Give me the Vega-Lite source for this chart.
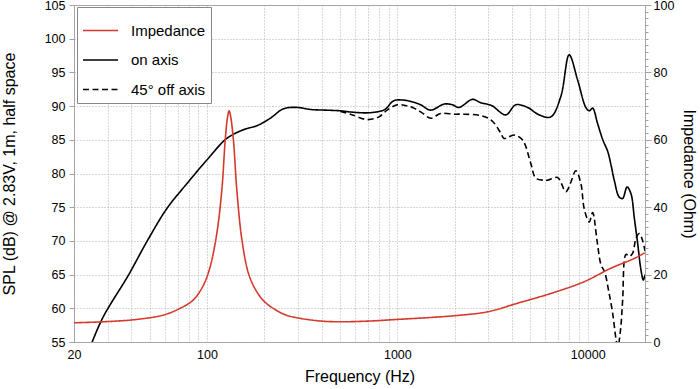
{
  "$schema": "https://vega.github.io/schema/vega-lite/v6.json",
  "width": 571,
  "height": 337,
  "autosize": {"type": "none"},
  "padding": {"left": 74, "top": 5, "right": 55, "bottom": 47},
  "config": {
    "font": "Liberation Sans",
    "view": {"stroke": "#a0a0a0", "strokeWidth": 1},
    "axis": {
      "labelFont": "Liberation Sans",
      "titleFont": "Liberation Sans",
      "labelFontSize": 12.5,
      "titleFontSize": 16,
      "titleFontWeight": "normal",
      "labelColor": "#000000",
      "titleColor": "#000000",
      "tickColor": "#a0a0a0",
      "domain": false,
      "gridColor": "#b0b0b0",
      "gridDash": [1, 2],
      "gridWidth": 1
    },
    "legend": {
      "orient": "none",
      "legendX": 3,
      "legendY": 2,
      "padding": 5,
      "strokeColor": "#888888",
      "fillColor": "#ffffff",
      "symbolType": "stroke",
      "symbolSize": 1225,
      "symbolStrokeWidth": 1.5,
      "labelFontSize": 15,
      "labelFont": "Liberation Sans",
      "labelOffset": 12,
      "rowPadding": 2.5,
      "labelLimit": 300
    }
  },
  "datasets": {
    "spl": [
      {"f": 24.9, "db": 55.0, "series": "on axis"},
      {"f": 28.5, "db": 58.75, "series": "on axis"},
      {"f": 38.6, "db": 64.9, "series": "on axis"},
      {"f": 48.3, "db": 69.9, "series": "on axis"},
      {"f": 61.5, "db": 74.8, "series": "on axis"},
      {"f": 78.4, "db": 78.5, "series": "on axis"},
      {"f": 99.8, "db": 82.0, "series": "on axis"},
      {"f": 127, "db": 85.2, "series": "on axis"},
      {"f": 155.6, "db": 86.5, "series": "on axis"},
      {"f": 183, "db": 87.1, "series": "on axis"},
      {"f": 215, "db": 88.2, "series": "on axis"},
      {"f": 252, "db": 89.6, "series": "on axis"},
      {"f": 298, "db": 89.8, "series": "on axis"},
      {"f": 350, "db": 89.5, "series": "on axis"},
      {"f": 420, "db": 89.4, "series": "on axis"},
      {"f": 502, "db": 89.3, "series": "on axis"},
      {"f": 580, "db": 89.1, "series": "on axis"},
      {"f": 694, "db": 89.0, "series": "on axis"},
      {"f": 800, "db": 89.2, "series": "on axis"},
      {"f": 860, "db": 89.5, "series": "on axis"},
      {"f": 958, "db": 90.8, "series": "on axis"},
      {"f": 1061, "db": 90.9, "series": "on axis"},
      {"f": 1174, "db": 90.7, "series": "on axis"},
      {"f": 1324, "db": 90.2, "series": "on axis"},
      {"f": 1496, "db": 89.4, "series": "on axis"},
      {"f": 1758, "db": 90.3, "series": "on axis"},
      {"f": 1944, "db": 90.2, "series": "on axis"},
      {"f": 2106, "db": 89.8, "series": "on axis"},
      {"f": 2480, "db": 91.0, "series": "on axis"},
      {"f": 2740, "db": 90.5, "series": "on axis"},
      {"f": 3120, "db": 90.1, "series": "on axis"},
      {"f": 3711, "db": 88.7, "series": "on axis"},
      {"f": 4190, "db": 90.2, "series": "on axis"},
      {"f": 4830, "db": 89.8, "series": "on axis"},
      {"f": 5556, "db": 88.7, "series": "on axis"},
      {"f": 6400, "db": 88.4, "series": "on axis"},
      {"f": 7220, "db": 91.4, "series": "on axis"},
      {"f": 7992, "db": 97.6, "series": "on axis"},
      {"f": 8846, "db": 93.9, "series": "on axis"},
      {"f": 9776, "db": 89.8, "series": "on axis"},
      {"f": 10200, "db": 89.3, "series": "on axis"},
      {"f": 10610, "db": 89.7, "series": "on axis"},
      {"f": 11274, "db": 87.4, "series": "on axis"},
      {"f": 12000, "db": 85.0, "series": "on axis"},
      {"f": 12730, "db": 83.3, "series": "on axis"},
      {"f": 13250, "db": 81.3, "series": "on axis"},
      {"f": 13786, "db": 79.0, "series": "on axis"},
      {"f": 14640, "db": 76.5, "series": "on axis"},
      {"f": 15260, "db": 76.3, "series": "on axis"},
      {"f": 16100, "db": 78.0, "series": "on axis"},
      {"f": 16880, "db": 77.0, "series": "on axis"},
      {"f": 17574, "db": 73.4, "series": "on axis"},
      {"f": 18306, "db": 69.6, "series": "on axis"},
      {"f": 19044, "db": 65.7, "series": "on axis"},
      {"f": 19600, "db": 64.2, "series": "on axis"},
      {"f": 20000, "db": 65.0, "series": "on axis"},
      {"f": 502, "db": 89.2, "series": "45° off axis"},
      {"f": 567, "db": 88.8, "series": "45° off axis"},
      {"f": 694, "db": 88.0, "series": "45° off axis"},
      {"f": 799, "db": 88.4, "series": "45° off axis"},
      {"f": 884, "db": 89.4, "series": "45° off axis"},
      {"f": 998, "db": 90.2, "series": "45° off axis"},
      {"f": 1100, "db": 90.1, "series": "45° off axis"},
      {"f": 1222, "db": 89.7, "series": "45° off axis"},
      {"f": 1350, "db": 89.0, "series": "45° off axis"},
      {"f": 1496, "db": 88.2, "series": "45° off axis"},
      {"f": 1688, "db": 88.9, "series": "45° off axis"},
      {"f": 2000, "db": 88.8, "series": "45° off axis"},
      {"f": 2238, "db": 88.8, "series": "45° off axis"},
      {"f": 2740, "db": 88.6, "series": "45° off axis"},
      {"f": 3120, "db": 87.9, "series": "45° off axis"},
      {"f": 3494, "db": 86.0, "series": "45° off axis"},
      {"f": 3636, "db": 85.2, "series": "45° off axis"},
      {"f": 4104, "db": 85.7, "series": "45° off axis"},
      {"f": 4540, "db": 85.0, "series": "45° off axis"},
      {"f": 5024, "db": 81.5, "series": "45° off axis"},
      {"f": 5339, "db": 79.3, "series": "45° off axis"},
      {"f": 5900, "db": 79.0, "series": "45° off axis"},
      {"f": 6150, "db": 79.0, "series": "45° off axis"},
      {"f": 6940, "db": 79.4, "series": "45° off axis"},
      {"f": 7676, "db": 77.3, "series": "45° off axis"},
      {"f": 8100, "db": 78.5, "series": "45° off axis"},
      {"f": 8670, "db": 80.4, "series": "45° off axis"},
      {"f": 9210, "db": 78.5, "series": "45° off axis"},
      {"f": 9580, "db": 74.8, "series": "45° off axis"},
      {"f": 10180, "db": 72.8, "series": "45° off axis"},
      {"f": 10610, "db": 74.2, "series": "45° off axis"},
      {"f": 11200, "db": 70.0, "series": "45° off axis"},
      {"f": 11735, "db": 66.5, "series": "45° off axis"},
      {"f": 12300, "db": 65.3, "series": "45° off axis"},
      {"f": 12900, "db": 62.5, "series": "45° off axis"},
      {"f": 13520, "db": 59.3, "series": "45° off axis"},
      {"f": 14077, "db": 55.5, "series": "45° off axis"},
      {"f": 14400, "db": 54.3, "series": "45° off axis"},
      {"f": 14900, "db": 57.0, "series": "45° off axis"},
      {"f": 15260, "db": 61.2, "series": "45° off axis"},
      {"f": 15890, "db": 68.0, "series": "45° off axis"},
      {"f": 16540, "db": 67.7, "series": "45° off axis"},
      {"f": 17230, "db": 68.2, "series": "45° off axis"},
      {"f": 17938, "db": 70.4, "series": "45° off axis"},
      {"f": 18660, "db": 71.1, "series": "45° off axis"},
      {"f": 19410, "db": 70.1, "series": "45° off axis"},
      {"f": 20000, "db": 68.5, "series": "45° off axis"}
    ],
    "imp": [
      {"f": 20, "z": 5.7, "series": "Impedance"},
      {"f": 28.5, "z": 6.0, "series": "Impedance"},
      {"f": 42.7, "z": 6.7, "series": "Impedance"},
      {"f": 59, "z": 8.0, "series": "Impedance"},
      {"f": 72.2, "z": 10.0, "series": "Impedance"},
      {"f": 84.8, "z": 12.5, "series": "Impedance"},
      {"f": 95.8, "z": 16.9, "series": "Impedance"},
      {"f": 103.8, "z": 22.3, "series": "Impedance"},
      {"f": 112.6, "z": 32.3, "series": "Impedance"},
      {"f": 119.6, "z": 45.1, "series": "Impedance"},
      {"f": 124.6, "z": 59.9, "series": "Impedance"},
      {"f": 128, "z": 66.5, "series": "Impedance"},
      {"f": 130.6, "z": 68.6, "series": "Impedance"},
      {"f": 133, "z": 67.0, "series": "Impedance"},
      {"f": 137.6, "z": 59.9, "series": "Impedance"},
      {"f": 143.4, "z": 45.1, "series": "Impedance"},
      {"f": 152.5, "z": 30.3, "series": "Impedance"},
      {"f": 165, "z": 20.4, "series": "Impedance"},
      {"f": 180, "z": 15.5, "series": "Impedance"},
      {"f": 200, "z": 12.0, "series": "Impedance"},
      {"f": 230, "z": 9.5, "series": "Impedance"},
      {"f": 260, "z": 8.0, "series": "Impedance"},
      {"f": 310, "z": 7.0, "series": "Impedance"},
      {"f": 400, "z": 6.2, "series": "Impedance"},
      {"f": 500, "z": 6.0, "series": "Impedance"},
      {"f": 700, "z": 6.2, "series": "Impedance"},
      {"f": 1000, "z": 6.7, "series": "Impedance"},
      {"f": 2000, "z": 7.8, "series": "Impedance"},
      {"f": 3000, "z": 9.0, "series": "Impedance"},
      {"f": 4276, "z": 11.5, "series": "Impedance"},
      {"f": 6400, "z": 14.4, "series": "Impedance"},
      {"f": 9580, "z": 17.9, "series": "Impedance"},
      {"f": 13250, "z": 21.9, "series": "Impedance"},
      {"f": 17574, "z": 24.8, "series": "Impedance"},
      {"f": 20000, "z": 26.5, "series": "Impedance"}
    ]
  },
  "layer": [
    {
      "layer": [
        {
          "data": {"name": "spl"},
          "mark": {"type": "line", "interpolate": "catmull-rom", "strokeWidth": 1.6, "clip": true},
          "encoding": {
            "x": {
              "field": "f", "type": "quantitative",
              "scale": {"type": "log", "domain": [20, 20000], "nice": false},
              "axis": {
                "title": "Frequency (Hz)",
                "values": [20, 30, 40, 50, 60, 70, 80, 90, 100, 200, 300, 400, 500, 600, 700, 800, 900, 1000, 2000, 3000, 4000, 5000, 6000, 7000, 8000, 9000, 10000, 20000],
                "format": "d",
                "labelExpr": "indexof([20, 100, 1000, 10000], datum.value) >= 0 ? datum.label : ''",
                "labelFlush": false,
                "labelOverlap": false,
                "tickSize": 0,
                "labelPadding": 6,
                "titlePadding": 8,
                "grid": true
              }
            },
            "y": {
              "field": "db", "type": "quantitative",
              "scale": {"domain": [55, 105], "nice": false, "zero": false},
              "axis": {
                "title": "SPL (dB) @ 2.83V, 1m, half space",
                "values": [55, 60, 65, 70, 75, 80, 85, 90, 95, 100, 105],
                "tickSize": 5,
                "labelPadding": 4,
                "titlePadding": 27,
                "grid": true
              }
            },
            "color": {
              "field": "series", "type": "nominal",
              "scale": {"domain": ["Impedance", "on axis", "45° off axis"], "range": ["#d33a2c", "#000000", "#000000"]},
              "legend": {"title": null, "labelExpr": "datum.label + '\u2003\u2003\u2003'"}
            },
            "strokeDash": {
              "field": "series", "type": "nominal",
              "scale": {"domain": ["Impedance", "on axis", "45° off axis"], "range": [[1, 0], [1, 0], [6, 3.5]]},
              "legend": {"title": null, "labelExpr": "datum.label + '\u2003\u2003\u2003'"}
            }
          }
        },
        {
          "data": {"name": "spl"},
          "mark": {"type": "line", "opacity": 0},
          "encoding": {
            "x": {
              "field": "f", "type": "quantitative",
              "scale": {"type": "log", "domain": [20, 20000], "nice": false},
              "axis": {
                "title": "Frequency (Hz)",
                "values": [20, 30, 40, 50, 60, 70, 80, 90, 100, 200, 300, 400, 500, 600, 700, 800, 900, 1000, 2000, 3000, 4000, 5000, 6000, 7000, 8000, 9000, 10000, 20000],
                "format": "d",
                "labelExpr": "indexof([20, 100, 1000, 10000], datum.value) >= 0 ? datum.label : ''",
                "labelFlush": false,
                "labelOverlap": false,
                "tickSize": 0,
                "labelPadding": 6,
                "titlePadding": 8,
                "grid": true
              }
            },
            "y": {
              "field": "db", "type": "quantitative",
              "scale": {"domain": [55, 105], "nice": false, "zero": false},
              "axis": {
                "title": null,
                "values": [55, 56, 57, 58, 59, 60, 61, 62, 63, 64, 65, 66, 67, 68, 69, 70, 71, 72, 73, 74, 75, 76, 77, 78, 79, 80, 81, 82, 83, 84, 85, 86, 87, 88, 89, 90, 91, 92, 93, 94, 95, 96, 97, 98, 99, 100, 101, 102, 103, 104, 105],
                "labels": false,
                "tickSize": 3,
                "grid": false
              }
            }
          }
        }
      ],
      "resolve": {"axis": {"y": "independent"}}
    },
    {
      "data": {"name": "imp"},
      "mark": {"type": "line", "interpolate": "catmull-rom", "strokeWidth": 1.6, "clip": true},
      "encoding": {
        "x": {
          "field": "f", "type": "quantitative",
          "scale": {"type": "log", "domain": [20, 20000], "nice": false},
          "axis": {
            "title": "Frequency (Hz)",
            "values": [20, 30, 40, 50, 60, 70, 80, 90, 100, 200, 300, 400, 500, 600, 700, 800, 900, 1000, 2000, 3000, 4000, 5000, 6000, 7000, 8000, 9000, 10000, 20000],
            "format": "d",
            "labelExpr": "indexof([20, 100, 1000, 10000], datum.value) >= 0 ? datum.label : ''",
            "labelFlush": false,
            "labelOverlap": false,
            "tickSize": 0,
            "labelPadding": 6,
            "titlePadding": 8,
            "grid": true
          }
        },
        "y": {
          "field": "z", "type": "quantitative",
          "scale": {"domain": [0, 100], "nice": false},
          "axis": {
            "orient": "right",
            "title": "Impedance (Ohm)",
            "values": [0, 20, 40, 60, 80, 100],
            "tickSize": 6,
            "labelPadding": 2,
            "titlePadding": 7,
            "grid": false
          }
        },
        "color": {
          "field": "series", "type": "nominal",
          "scale": {"domain": ["Impedance", "on axis", "45° off axis"], "range": ["#d33a2c", "#000000", "#000000"]},
          "legend": {"title": null, "labelExpr": "datum.label + '\u2003\u2003\u2003'"}
        },
        "strokeDash": {
          "field": "series", "type": "nominal",
          "scale": {"domain": ["Impedance", "on axis", "45° off axis"], "range": [[1, 0], [1, 0], [6, 3.5]]},
          "legend": {"title": null, "labelExpr": "datum.label + '\u2003\u2003\u2003'"}
        }
      }
    }
  ],
  "resolve": {"scale": {"y": "independent"}}
}
